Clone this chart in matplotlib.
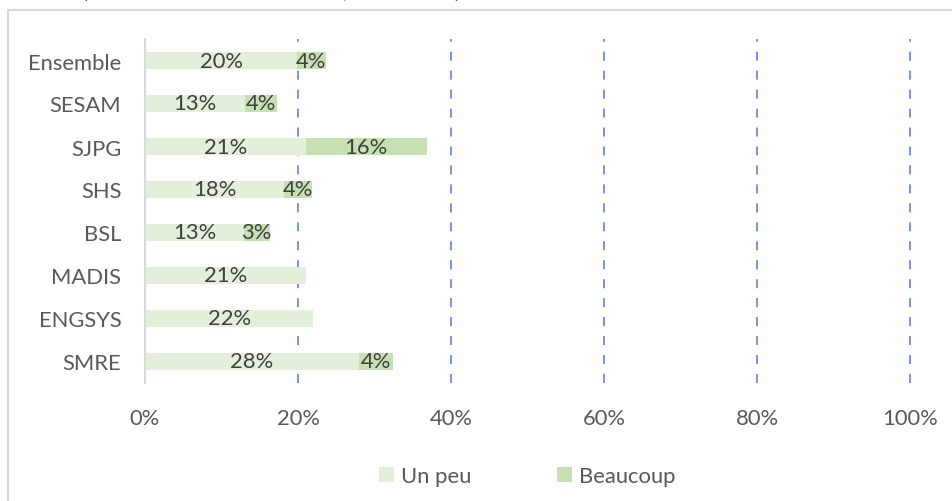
import matplotlib
matplotlib.use("Agg")
import matplotlib.pyplot as plt
from matplotlib.patches import Rectangle
from matplotlib.ticker import FixedLocator

categories = ["Ensemble", "SESAM", "SJPG", "SHS", "BSL", "MADIS", "ENGSYS", "SMRE"]
un_peu = [0.199, 0.131, 0.210, 0.182, 0.129, 0.211, 0.220, 0.280]
beaucoup = [0.037, 0.042, 0.158, 0.036, 0.034, 0.0, 0.0, 0.044]
series_names = ["Un peu", "Beaucoup"]
x_ticks = [0, 0.2, 0.4, 0.6, 0.8, 1.0]
x_tick_labels = ["0%", "20%", "40%", "60%", "80%", "100%"]

FONT = "Lato"
FS = 15.8
C_UN = "#E2EFDA"
C_BEAU = "#C6E0B4"
C_TEXT = "#595959"
C_LABEL = "#404040"

W, H = 952, 502
fig = plt.figure(figsize=(W / 100, H / 100), dpi=100)
fig.patch.set_facecolor("white")

# chart-area border (partly outside image)
fig.patches.append(Rectangle((8 / W, -0.1), 1.1, 1 - 11 / H + 0.1,
                             transform=fig.transFigure, fill=False,
                             edgecolor="#D9D9D9", linewidth=1.5))

# cut-off title fragments at very top
for xp, ch in [(85, "("), (345, ","), (457, ")")]:
    fig.text(xp / W, 1 + 2.0 / H, ch, ha="center", va="baseline",
             fontsize=FS, color="#404040", family=FONT)

ax = fig.add_axes([145 / W, 1 - 384 / H, (910 - 145) / W, (384 - 40) / H])
ypos = list(range(len(categories)))
ax.set_ylim(len(categories) - 0.5, -0.5)
ax.set_xlim(0, 1.0)

bh = 0.40
b1 = ax.barh(ypos, un_peu, height=bh, color=C_UN, label=series_names[0], zorder=3)
b2 = ax.barh(ypos, beaucoup, left=un_peu, height=bh, color=C_BEAU,
             label=series_names[1], zorder=3)

for i in ypos:
    u = un_peu[i]
    b = beaucoup[i]
    if u > 0:
        ax.text(u / 2, i, f"{round(u * 100):.0f}%", ha="center", va="center",
                fontsize=FS, color=C_LABEL, family=FONT, zorder=5)
    if b > 0:
        ax.text(u + b / 2, i, f"{round(b * 100):.0f}%", ha="center", va="center",
                fontsize=FS, color=C_LABEL, family=FONT, zorder=5)

ax.xaxis.set_major_locator(FixedLocator(x_ticks))
ax.set_xticklabels(x_tick_labels)
ax.set_yticks(ypos)
ax.set_yticklabels(categories)
ax.tick_params(axis="both", length=0, labelsize=FS, colors=C_TEXT)
ax.tick_params(axis="y", pad=17)
ax.tick_params(axis="x", pad=18)
for lab in ax.get_xticklabels() + ax.get_yticklabels():
    lab.set_family(FONT)

for s in ["top", "right", "bottom"]:
    ax.spines[s].set_visible(False)
ax.spines["left"].set_color("#D9D9D9")
ax.spines["left"].set_linewidth(1.5)
ax.spines["left"].set_zorder(4)

for xv in x_ticks[1:]:
    ax.axvline(xv, color="#6C8FD0", linewidth=1.3, linestyle=(0, (5, 5.5)),
               zorder=2, clip_on=False)

leg = fig.legend(handles=[b1, b2], labels=series_names, loc="center",
                 bbox_to_anchor=(527 / W, 1 - 477 / H), ncol=2, frameon=False,
                 prop={"family": FONT, "size": FS}, handlelength=0.7,
                 handleheight=0.7, handletextpad=0.3, columnspacing=3.9)
for t in leg.get_texts():
    t.set_color(C_TEXT)

fig.savefig("out.png", dpi=100, facecolor="white")
